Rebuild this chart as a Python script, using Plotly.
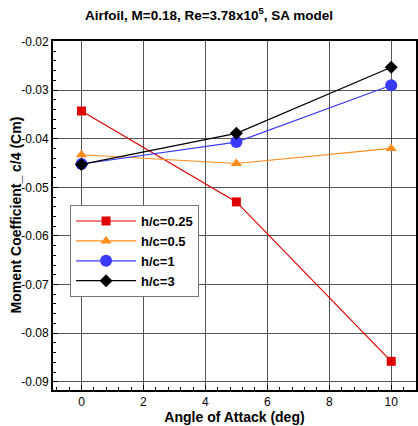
import plotly.graph_objects as go

alpha = [0, 5, 10]
cm_025 = [-0.0343, -0.0530, -0.0858]
cm_05 = [-0.0433, -0.0451, -0.0420]
cm_1 = [-0.0452, -0.0407, -0.0290]
cm_3 = [-0.0453, -0.0389, -0.0253]

series = [
    ("h/c=0.25", cm_025, "#e00000", "square", 9),
    ("h/c=0.5", cm_05, "#ff8c1a", "triangle-up", 10),
    ("h/c=1", cm_1, "#3a3aff", "circle", 12),
    ("h/c=3", cm_3, "#000000", "diamond", 10),
]

xticks = [0, 2, 4, 6, 8, 10]
yticks = [-0.02, -0.03, -0.04, -0.05, -0.06, -0.07, -0.08, -0.09]
ylabels = ["-0.02", "-0.03", "-0.04", "-0.05", "-0.06", "-0.07", "-0.08", "-0.09"]

fig = go.Figure()
for name, vals, color, sym, size in series:
    fig.add_trace(go.Scatter(
        x=alpha, y=vals, name="<b>" + name + "</b>", mode="lines+markers",
        line=dict(color=color, width=1.2),
        marker=dict(symbol=sym, size=size, color=color),
    ))

font = "Liberation Sans, Arial, sans-serif"
fig.update_layout(
    width=418, height=426,
    margin=dict(l=53, r=0, t=41, b=36),
    plot_bgcolor="white", paper_bgcolor="white",
    font=dict(family=font, size=12, color="black"),
    title=dict(text="<b>Airfoil, M=0.18, Re=3.78x10<sup>5</sup>, SA model</b>",
               x=0.5, xanchor="center", y=0.965, yanchor="middle",
               font=dict(size=13.5, family=font)),
    showlegend=True,
    legend=dict(x=0.047, y=0.53, xanchor="left", yanchor="top",
                bgcolor="white", bordercolor="#777777", borderwidth=1,
                font=dict(size=13, family=font, color="black"),
                itemwidth=60, tracegroupgap=0),
    xaxis=dict(range=[-0.92, 10.8], tickvals=xticks, ticktext=[str(v) for v in xticks],
               showgrid=True, gridcolor="#555555", gridwidth=1,
               showline=True, linecolor="black", linewidth=2, mirror=True,
               ticks="inside", ticklen=5, tickcolor="black",
               minor=dict(dtick=0.4, ticks="inside", ticklen=3, tickcolor="black", showgrid=False),
               zeroline=False,
               title=dict(text="<b>Angle of Attack (deg)</b>", font=dict(size=14), standoff=2),
               tickfont=dict(size=12)),
    yaxis=dict(range=[-0.0917, -0.0199], tickvals=yticks, ticktext=ylabels,
               showgrid=True, gridcolor="#555555", gridwidth=1,
               showline=True, linecolor="black", linewidth=2, mirror=True,
               ticks="inside", ticklen=5, tickcolor="black",
               minor=dict(dtick=0.002, ticks="inside", ticklen=3, tickcolor="black", showgrid=False),
               zeroline=False, tickfont=dict(size=12)),
)
fig.add_annotation(text="<b>Moment Coefficient_ c/4 (Cm)</b>", textangle=-90,
                   xref="paper", yref="paper", x=0, y=0.5, xshift=-38,
                   xanchor="center", yanchor="middle", showarrow=False,
                   font=dict(size=14, family=font, color="black"))
fig.write_html("out.html")
